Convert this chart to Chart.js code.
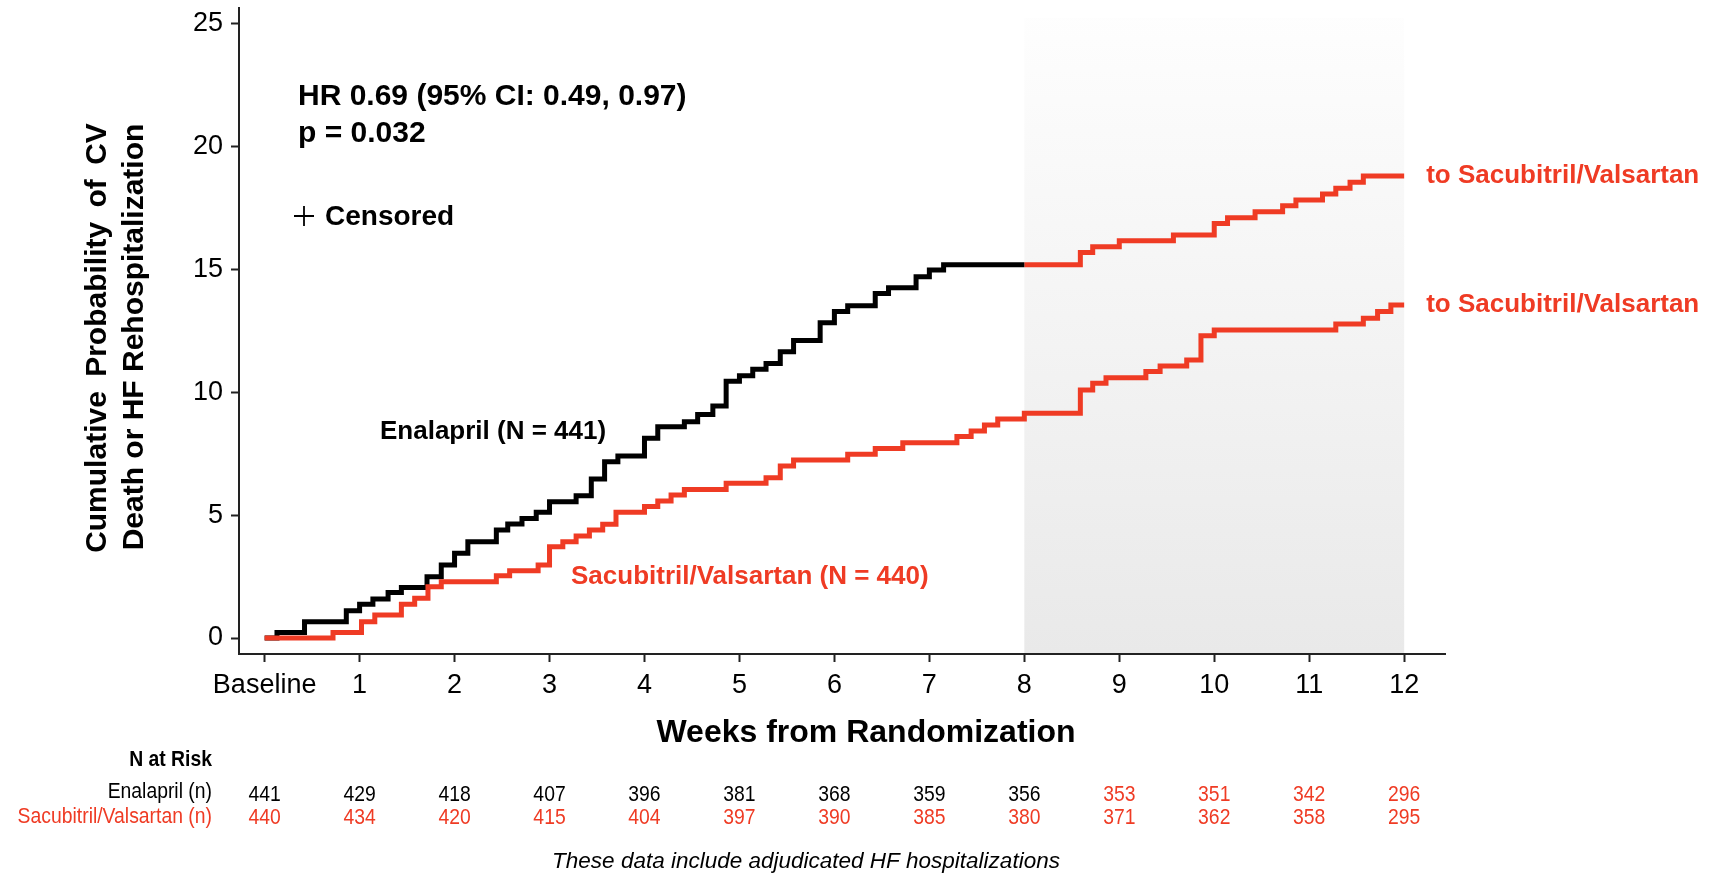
<!DOCTYPE html>
<html>
<head>
<meta charset="utf-8">
<script src="https://cdn.jsdelivr.net/npm/chart.js@4.4.1/dist/chart.umd.min.js"></script>
<style>
  html, body { margin: 0; padding: 0; background: #fff; }
  canvas { display: block; }
</style>
</head>
<body>
<canvas id="km" width="1719" height="877"></canvas>
<script>
const RED = '#ef3b24';
const BLACK = '#000000';
const FONT = "'Liberation Sans', Arial, Helvetica, sans-serif";

// Kaplan-Meier steps (week of event, cumulative %)
const enalaprilWeeks = [0, 0.13, 0.42, 0.86, 1.0, 1.14, 1.30, 1.44, 1.71, 1.86, 2.0, 2.14, 2.44, 2.56, 2.71, 2.86, 3.0, 3.28, 3.44, 3.58, 3.72, 4.0, 4.14, 4.42, 4.56, 4.72, 4.86, 5.0, 5.14, 5.28, 5.43, 5.57, 5.85, 6.0, 6.14, 6.43, 6.57, 6.86, 7.0, 7.15, 8.0];
const enalaprilRisk = [0, 0.23, 0.66, 1.11, 1.38, 1.59, 1.85, 2.06, 2.50, 2.97, 3.45, 3.92, 4.40, 4.64, 4.87, 5.12, 5.55, 5.79, 6.47, 7.18, 7.41, 8.13, 8.60, 8.81, 9.10, 9.45, 10.45, 10.68, 10.94, 11.18, 11.66, 12.11, 12.84, 13.29, 13.53, 14.03, 14.26, 14.71, 14.98, 15.20, 15.20];

const switchWeeks = [8.0, 8.59, 8.72, 9.0, 9.57, 10.0, 10.14, 10.43, 10.72, 10.86, 11.14, 11.28, 11.43, 11.57, 12.0];
const switchRisk = [15.20, 15.70, 15.93, 16.17, 16.41, 16.88, 17.11, 17.36, 17.60, 17.83, 18.08, 18.31, 18.56, 18.81, 18.81];

const sacubitrilWeeks = [0, 0.72, 1.02, 1.16, 1.44, 1.58, 1.72, 1.86, 2.44, 2.58, 2.88, 3.0, 3.14, 3.28, 3.42, 3.56, 3.70, 4.0, 4.14, 4.28, 4.42, 4.86, 5.28, 5.43, 5.57, 6.14, 6.43, 6.72, 7.29, 7.44, 7.58, 7.72, 8.0, 8.59, 8.72, 8.86, 9.28, 9.43, 9.71, 9.86, 10.0, 11.28, 11.57, 11.72, 11.86, 12.0];
const sacubitrilRisk = [0, 0.23, 0.66, 0.94, 1.38, 1.62, 2.09, 2.29, 2.54, 2.74, 2.97, 3.72, 3.92, 4.15, 4.40, 4.63, 5.12, 5.35, 5.58, 5.82, 6.05, 6.30, 6.53, 7.0, 7.25, 7.48, 7.72, 7.95, 8.20, 8.43, 8.67, 8.92, 9.15, 10.10, 10.37, 10.60, 10.85, 11.08, 11.32, 12.31, 12.54, 12.79, 13.02, 13.29, 13.56, 13.56];

// axes
const weekTicks = [0, 1, 2, 3, 4, 5, 6, 7, 8, 9, 10, 11, 12];
const weekLabels = ['Baseline', '1', '2', '3', '4', '5', '6', '7', '8', '9', '10', '11', '12'];
const riskTicks = [0, 5, 10, 15, 20, 25];
const yTitleLines = ['Cumulative \u2009Probability \u2009of \u2009CV', 'Death or HF Rehospitalization'];

// open-label period (shaded)
const openLabelStart = 8;
const openLabelEnd = 12;

// numbers at risk
const enalaprilAtRisk = [441, 429, 418, 407, 396, 381, 368, 359, 356, 353, 351, 342, 296];
const sacubitrilAtRisk = [440, 434, 420, 415, 404, 397, 390, 385, 380, 371, 362, 358, 295];

function toPoints(weeks, values) {
  return weeks.map((w, i) => ({x: w, y: values[i]}));
}

function drawText(ctx, text, x, y, opts) {
  ctx.save();
  ctx.font = opts.font;
  ctx.fillStyle = opts.color || BLACK;
  ctx.textAlign = opts.align || 'left';
  ctx.textBaseline = 'middle';
  const sx = opts.scaleX || 1;
  ctx.translate(x, y);
  if (opts.rotate) ctx.rotate(opts.rotate);
  ctx.scale(sx, 1);
  ctx.fillText(text, 0, 0);
  ctx.restore();
}

const shadePlugin = {
  id: 'openLabelShade',
  beforeDatasetsDraw(chart) {
    const {ctx, chartArea, scales: {x}} = chart;
    const left = x.getPixelForValue(openLabelStart);
    const right = x.getPixelForValue(openLabelEnd);
    const grad = ctx.createLinearGradient(0, chartArea.top, 0, chartArea.bottom);
    grad.addColorStop(0, '#fefefe');
    grad.addColorStop(1, '#e9e9e9');
    ctx.save();
    ctx.fillStyle = grad;
    ctx.fillRect(left, chartArea.top + 10, right - left, chartArea.bottom - chartArea.top - 11);
    ctx.restore();
  }
};

const textPlugin = {
  id: 'kmText',
  afterDraw(chart) {
    const {ctx, scales: {x, y}} = chart;
    const bold30 = 'bold 30px ' + FONT;
    const bold26 = 'bold 26px ' + FONT;

    // y axis title, two lines
    drawText(ctx, yTitleLines[0], 98, 338, {font: bold30, align: 'center', rotate: -Math.PI / 2});
    drawText(ctx, yTitleLines[1], 135, 337, {font: bold30, align: 'center', rotate: -Math.PI / 2});

    drawText(ctx, 'HR 0.69 (95% CI: 0.49, 0.97)', 298, 97, {font: bold30});
    drawText(ctx, 'p = 0.032', 298, 134, {font: bold30});

    // censored legend marker
    ctx.save();
    ctx.strokeStyle = BLACK;
    ctx.lineWidth = 1.8;
    ctx.beginPath();
    ctx.moveTo(294, 216); ctx.lineTo(314, 216);
    ctx.moveTo(304, 206); ctx.lineTo(304, 226);
    ctx.stroke();
    ctx.restore();
    drawText(ctx, 'Censored', 325, 217, {font: 'bold 28px ' + FONT});

    drawText(ctx, 'Enalapril (N = 441)', 380, 432, {font: bold26});
    drawText(ctx, 'Sacubitril/Valsartan (N = 440)', 571, 577, {font: bold26, color: RED});

    const endX = x.getPixelForValue(12) + 22;
    drawText(ctx, 'to Sacubitril/Valsartan', endX, y.getPixelForValue(switchRisk[switchRisk.length - 1]), {font: bold26, color: RED});
    drawText(ctx, 'to Sacubitril/Valsartan', endX, y.getPixelForValue(sacubitrilRisk[sacubitrilRisk.length - 1]), {font: bold26, color: RED});

    drawText(ctx, 'Weeks from Randomization', 866, 733, {font: 'bold 32px ' + FONT, align: 'center'});

    // numbers at risk table
    const narrow = 0.88;
    drawText(ctx, 'N at Risk', 212, 760, {font: 'bold 22px ' + FONT, align: 'right', scaleX: narrow});
    drawText(ctx, 'Enalapril (n)', 212, 792, {font: '22px ' + FONT, align: 'right', scaleX: narrow});
    drawText(ctx, 'Sacubitril/Valsartan (n)', 212, 817, {font: '22px ' + FONT, align: 'right', scaleX: narrow, color: RED});
    weekTicks.forEach((w, i) => {
      const px = x.getPixelForValue(w);
      drawText(ctx, String(enalaprilAtRisk[i]), px, 795, {font: '22px ' + FONT, align: 'center', scaleX: narrow, color: w > openLabelStart ? RED : BLACK});
      drawText(ctx, String(sacubitrilAtRisk[i]), px, 818, {font: '22px ' + FONT, align: 'center', scaleX: narrow, color: RED});
    });

    drawText(ctx, 'These data include adjudicated HF hospitalizations', 806, 862, {font: 'italic 22.5px ' + FONT, align: 'center'});
  }
};

Chart.defaults.font.family = FONT;
Chart.defaults.color = BLACK;

const lineStyle = {borderWidth: 5, stepped: true, pointRadius: 0, fill: false, borderCapStyle: 'butt', borderJoinStyle: 'miter'};

new Chart(document.getElementById('km').getContext('2d'), {
  type: 'line',
  data: {
    datasets: [
      {label: 'Sacubitril/Valsartan', data: toPoints(sacubitrilWeeks, sacubitrilRisk), borderColor: RED, ...lineStyle},
      {label: 'Enalapril', data: toPoints(enalaprilWeeks, enalaprilRisk), borderColor: BLACK, ...lineStyle},
      {label: 'Enalapril to Sacubitril/Valsartan', data: toPoints(switchWeeks, switchRisk), borderColor: RED, ...lineStyle},
    ]
  },
  options: {
    responsive: false,
    animation: false,
    layout: {padding: {top: 8, right: 274, left: 0, bottom: 0}},
    plugins: {legend: {display: false}, tooltip: {enabled: false}},
    scales: {
      x: {
        type: 'linear',
        min: -0.27,
        max: 12.43,
        afterBuildTicks: (scale) => { scale.ticks = weekTicks.map((value) => ({value})); },
        afterFit: (scale) => { scale.height = 223; scale.paddingLeft = 0; scale.paddingRight = 0; },
        ticks: {
          autoSkip: false,
          maxRotation: 0,
          padding: 7,
          color: BLACK,
          font: {size: 27},
          callback: (value, index) => weekLabels[index],
        },
        grid: {drawOnChartArea: false, drawTicks: true, tickLength: 8, tickWidth: 2, tickColor: '#222'},
        border: {display: true, color: '#222', width: 2},
      },
      y: {
        min: -0.65,
        max: 25.65,
        afterBuildTicks: (scale) => { scale.ticks = riskTicks.map((value) => ({value})); },
        afterFit: (scale) => { scale.width = 239; scale.paddingTop = 0; scale.paddingBottom = 0; },
        ticks: {padding: 8, color: BLACK, font: {size: 27}},
        grid: {drawOnChartArea: false, drawTicks: true, tickLength: 8, tickWidth: 2, tickColor: '#222'},
        border: {display: true, color: '#222', width: 2},
      },
    },
  },
  plugins: [shadePlugin, textPlugin],
});
</script>
</body>
</html>
